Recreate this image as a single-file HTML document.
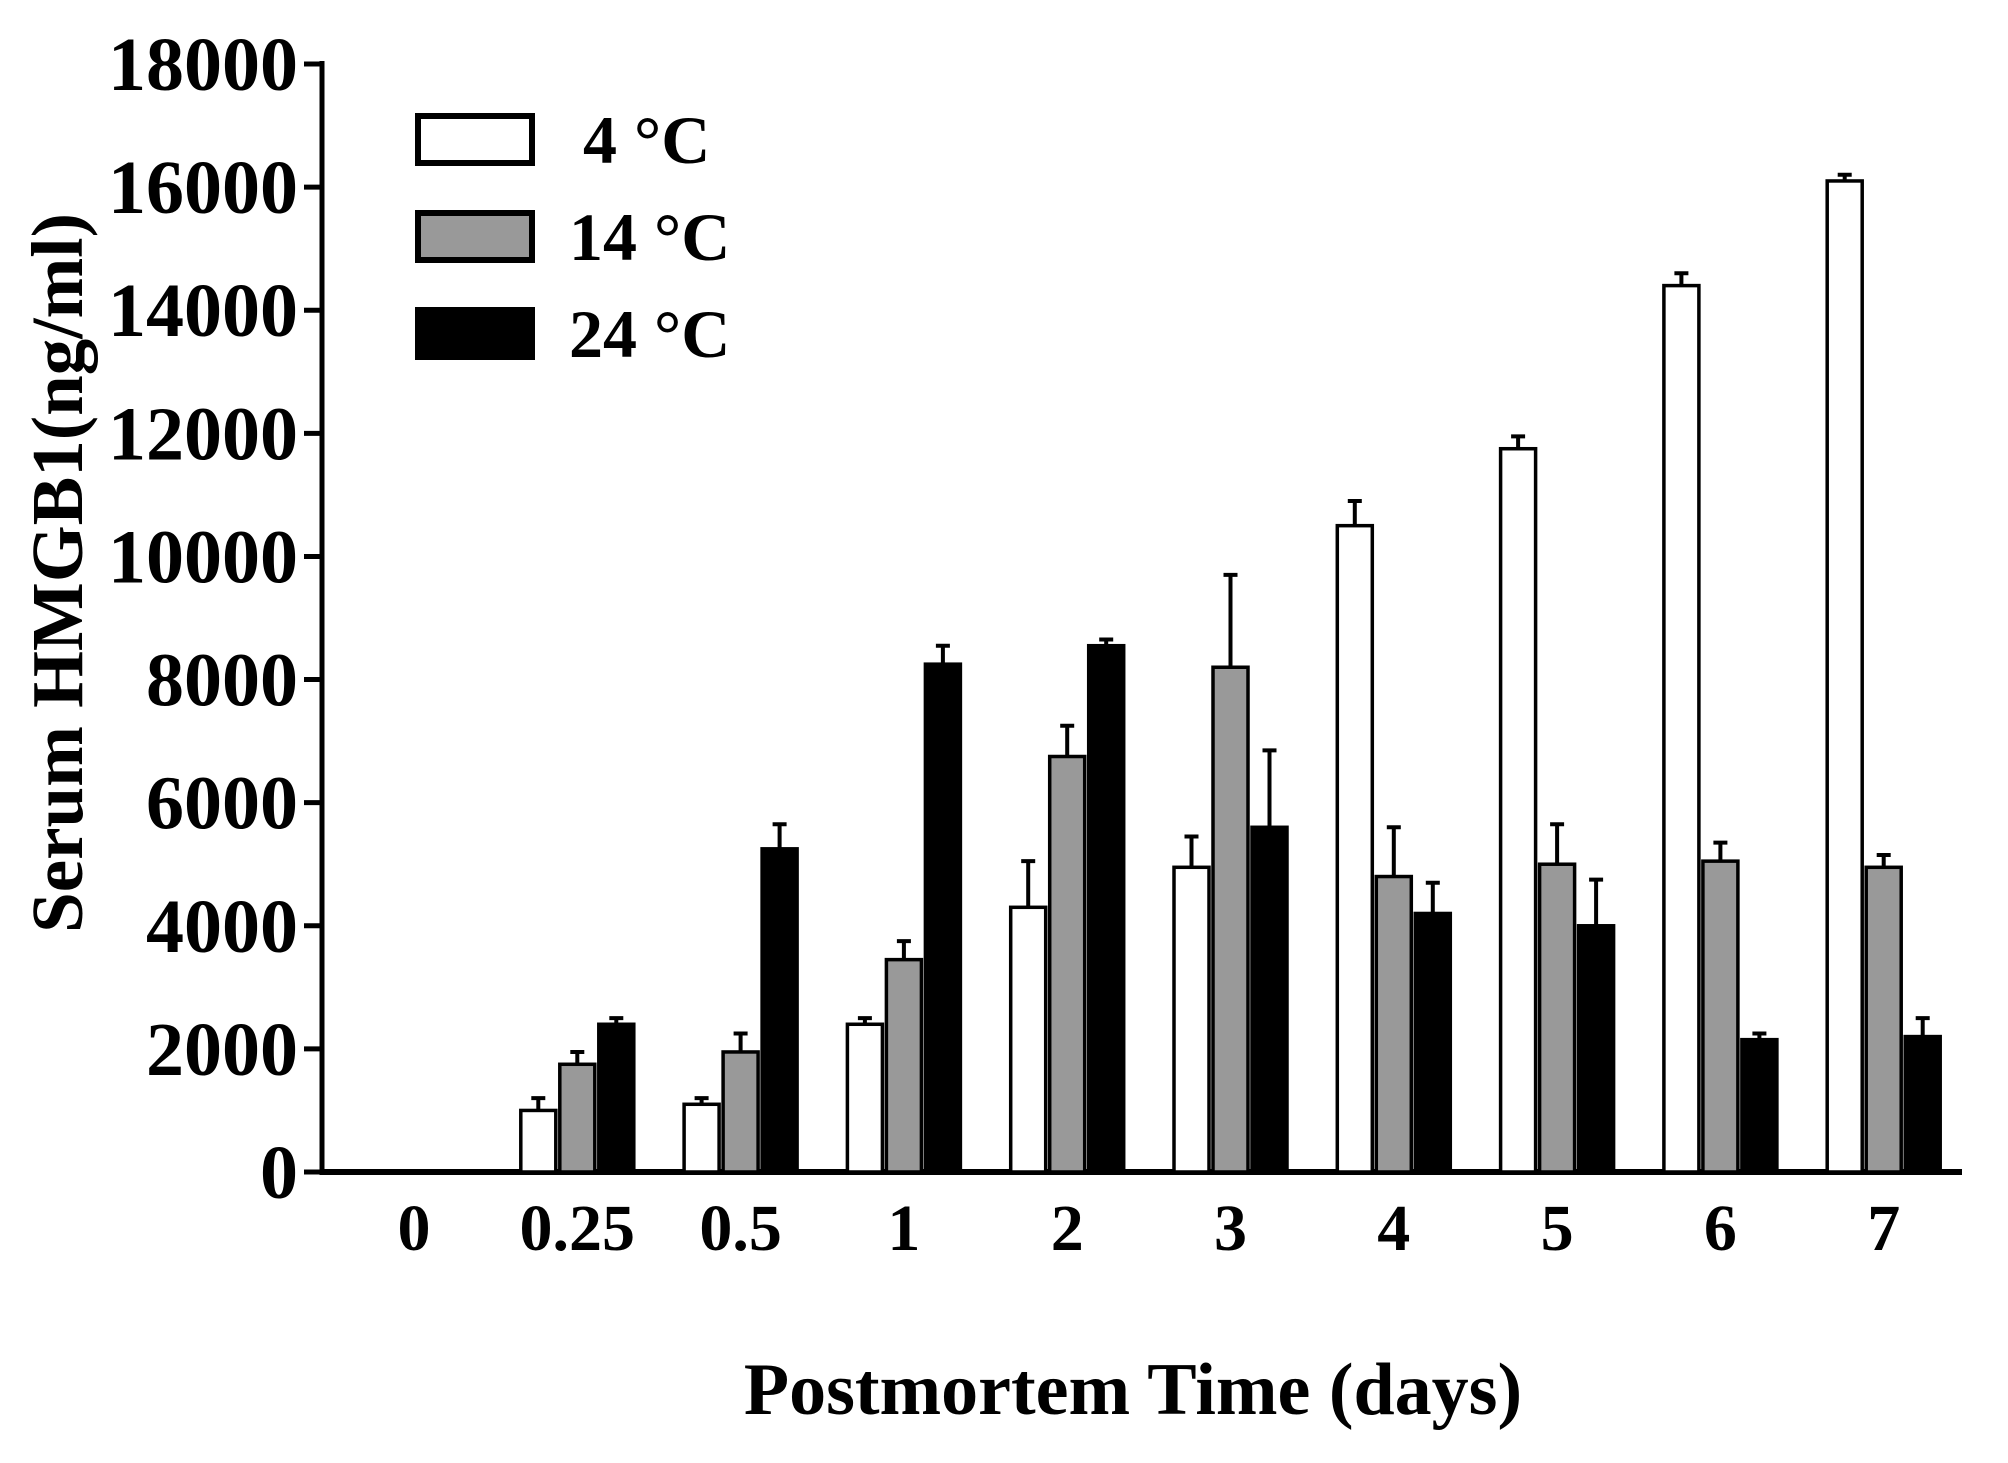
<!DOCTYPE html>
<html><head><meta charset="utf-8"><style>
html,body{margin:0;padding:0;background:#fff;}
svg{display:block;}
text{font-family:"Liberation Serif",serif;font-weight:bold;fill:#000;}
</style></head><body>
<svg id="chart" width="2008" height="1463" viewBox="0 0 2008 1463">
<g id="axes"></g><g id="bars"></g><g id="legend"></g>
<text x="0" y="0" font-size="73" text-anchor="middle" transform="translate(82,573) rotate(-90)">Serum HMGB1(ng/ml)</text>
<text x="1133" y="1414" font-size="74" text-anchor="middle">Postmortem Time (days)</text>
</svg>
<script>
const categories=["0","0.25","0.5","1","2","3","4","5","6","7"];
const series4=[0,1000,1100,2400,4300,4950,10500,11750,14400,16100];
const err4=[0,200,100,100,750,500,400,200,200,100];
const series14=[0,1750,1950,3450,6750,8200,4800,5000,5050,4950];
const err14=[0,200,300,300,500,1500,800,650,300,200];
const series24=[0,2400,5250,8250,8550,5600,4200,4000,2150,2200];
const err24=[0,100,400,300,100,1250,500,750,100,300];
const yTicks=[0,2000,4000,6000,8000,10000,12000,14000,16000,18000];
const seriesNames=["4 °C","14 °C","24 °C"];

const NS="http://www.w3.org/2000/svg";
const X0=322,Y0=1172,YT=64,YMAX=18000;
function y(v){return Y0-(v/YMAX)*(Y0-YT);}
function xc(i){return 414+i*163.3;}
function mk(tag,attrs,parent){const e=document.createElementNS(NS,tag);for(const k in attrs)e.setAttribute(k,attrs[k]);parent.appendChild(e);return e;}
const axes=document.getElementById('axes'),bars=document.getElementById('bars'),leg=document.getElementById('legend');

let yl=mk('line',{x1:X0,y1:YT-3,x2:X0,y2:Y0+3,stroke:'#000','stroke-width':5},axes);


let xl=mk('line',{x1:X0-2,y1:Y0,x2:1962,y2:Y0,stroke:'#000','stroke-width':6},axes);


yTicks.forEach(v=>{
  let t=mk('line',{x1:304,y1:y(v),x2:X0,y2:y(v),stroke:'#000','stroke-width':5},axes);
  
  
  let l=mk('text',{x:298,y:y(v)+26,'font-size':76,'text-anchor':'end'},axes);
  l.textContent=v;
  
  
});
categories.forEach((c,i)=>{
  let l=mk('text',{x:xc(i),y:1250,'font-size':66,'text-anchor':'middle'},axes);
  l.textContent=c;
  
  
});
const fills=['#fff','#999','#000'];
const vals=[series4,series14,series24],errs=[err4,err14,err24];
const BW=35,GAP=39;
categories.forEach((c,i)=>{
  for(let s=0;s<3;s++){
    const v=vals[s][i];if(!v)continue;
    const cx=xc(i)+(s-1)*GAP;
    const top=y(v);
    let b=mk('rect',{x:cx-BW/2,y:top,width:BW,height:Y0-top,fill:fills[s],stroke:'#000','stroke-width':3.5},bars);
    
    
    const et=y(v+errs[s][i]);
    let e=mk('path',{d:`M${cx} ${top} V${et} M${cx-7} ${et} H${cx+7}`,stroke:'#000','stroke-width':4,fill:'none'},bars);
    
    
  }
});
const ly=[113,210,307],lx=[583,569,569];
seriesNames.forEach((n,s)=>{
  let r=mk('rect',{x:418,y:ly[s]+3,width:114,height:47,fill:fills[s],stroke:'#000','stroke-width':6},leg);
  
  
  let t=mk('text',{x:lx[s],y:ly[s]+50,'font-size':68},leg);
  t.textContent=n;
  
  
});
</script>
</body></html>
